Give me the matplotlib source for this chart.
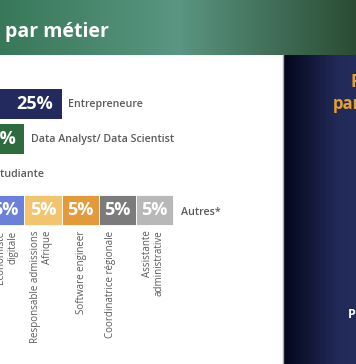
import numpy as np
import matplotlib.pyplot as plt
from matplotlib.colors import LinearSegmentedColormap

plt.rcParams['font.family'] = ['Open Sans', 'DejaVu Sans']

# données (la partie gauche est coupée)
metiers = ['Entrepreneure', 'Data Analyst/ Data Scientist', 'Etudiante', 'Autres*']
parts = [25, 20, 15, 40]
couleurs = ['#232a5e', '#2e6b3f', '#4f8f73']

autres_metiers = ['Economiste\ndigitale', 'Responsable admissions\nAfrique',
                  'Software engineer', 'Coordinatrice régionale',
                  'Assistante\nadministrative']
autres_parts = [5, 5, 5, 5, 5]
autres_couleurs = ['#6b80d8', '#f2c46d', '#e39a3b', '#7b7b7b', '#b8b8b8']
decalage_etiq = [1, -1, 1, -5, -1]   # petits ajustements (points)

W, H = 356, 364
fig = plt.figure(figsize=(W / 100, H / 100), dpi=100)

# fond : bandeau vert en dégradé + panneau bleu nuit à droite
bg = fig.add_axes([0, 0, 1, 1])
grad = np.linspace(0, 1, 256)[None, :]
vert = LinearSegmentedColormap.from_list('vert', [(0, '#387859'), (0.5, '#5a9682'), (1, '#2b4c33')])
bg.imshow(grad, cmap=vert, extent=(0, W, 55, 0), aspect='auto')
nuit = LinearSegmentedColormap.from_list('nuit', [(0, '#03061a'), (0.75, '#222a58'), (1, '#242c5c')])
bg.imshow(grad, cmap=nuit, extent=(283, W, H, 55), aspect='auto')
bg.plot([282.5, 282.5], [55, H], color='#a3aca5', lw=1)
bg.set_xlim(0, W)
bg.set_ylim(H, 0)
bg.axis('off')

bg.text(5, 37, 'par métier', color='white', fontsize=14, fontweight='bold', va='baseline')
bg.text(351, 87, 'F', color='#e8a030', fontsize=12, fontweight='bold', va='baseline')
bg.text(333, 109, 'par', color='#e8a030', fontsize=12, fontweight='bold', va='baseline')
bg.text(348, 318, 'P', color='white', fontsize=9, fontweight='bold', va='baseline')

# axe des barres : origine hors champ à gauche
ax = fig.add_axes([0, 0, 1, 1])
ax.patch.set_alpha(0)
px_pct = 7.44
x0 = -124.5
pas = 35.3
ax.set_xlim(-x0 / px_pct, (W - x0) / px_pct)
ax.set_ylim((H - 104) / pas, -104 / pas)
ax.axis('off')

gris = '#5a5a5a'
for i in range(3):
    ax.barh(i, parts[i], height=0.85, color=couleurs[i])
    ax.annotate(f'{parts[i]}%', (parts[i], i), xytext=(-6, 0), textcoords='offset points',
                ha='right', va='center', color='white', fontsize=13, fontweight='bold',
                annotation_clip=False)
    ax.annotate(metiers[i], (parts[i], i), xytext=(5, 0), textcoords='offset points',
                ha='left', va='center', color=gris, fontsize=7.7, fontweight='semibold',
                annotation_clip=False)

# ligne "Autres*" empilée
debut = parts[3] - sum(autres_parts)
gauches = debut + np.cumsum([0] + autres_parts[:-1])
ax.barh(3, autres_parts, left=gauches, height=0.85, color=autres_couleurs,
        edgecolor='white', linewidth=0.6)
for g, v, nom, dx in zip(gauches, autres_parts, autres_metiers, decalage_etiq):
    ax.text(g + v / 2, 3, f'{v}%', ha='center', va='center', color='white',
            fontsize=13, fontweight='bold')
    ax.annotate(nom, (g + v / 2, 3 + 0.425), xytext=(dx, -4), textcoords='offset points',
                rotation=90, ha='center', va='top', multialignment='right',
                color=gris, fontsize=7, linespacing=1.15, annotation_clip=False)
ax.annotate(metiers[3], (parts[3], 3), xytext=(6, -2), textcoords='offset points',
            ha='left', va='center', color=gris, fontsize=7.7, fontweight='semibold')

fig.savefig('out.png', dpi=100)
